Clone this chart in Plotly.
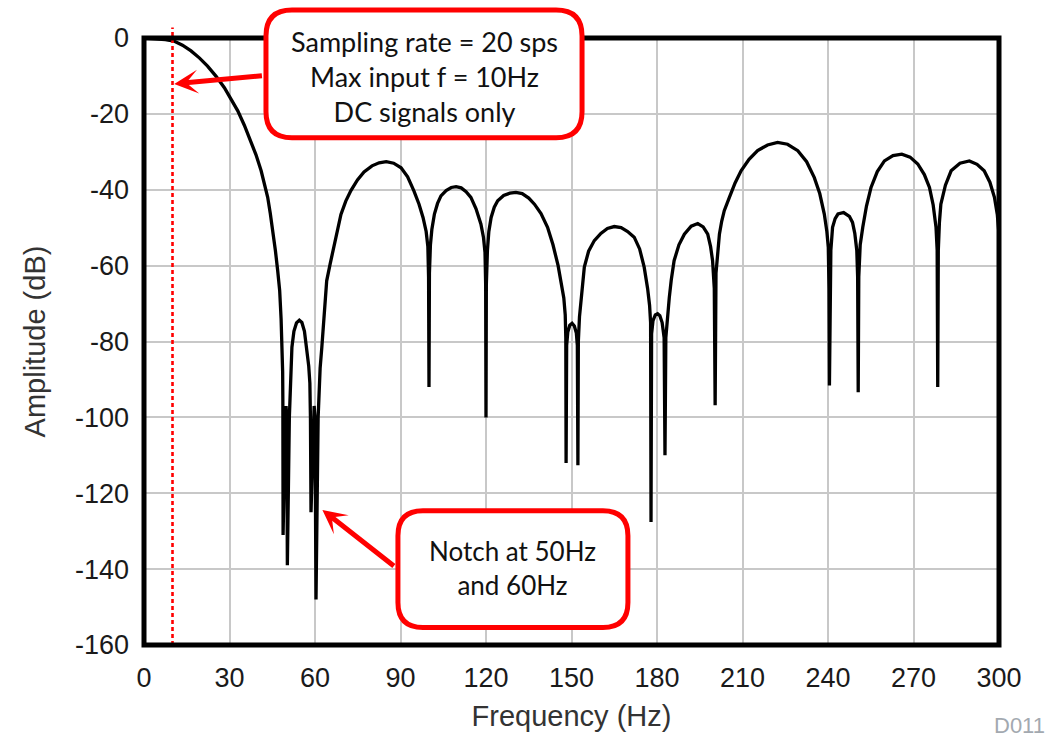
import plotly.graph_objects as go

# Frequency response of the digital filter, traced as (Hz, dB) pairs segment by segment
main_lobe_hz = [0, 2.5, 5, 7.5, 10.5, 13.5, 16.5, 19.5, 22.3, 25.3, 28.2, 30.5, 32.9, 35.2,
                37.5, 39.3, 41.1, 42.3, 43.4, 44.3, 45.2, 46.1, 46.9, 47.6, 48.1, 48.45, 48.65]
main_lobe_db = [0, -0.1, -0.2, -0.4, -0.8, -1.9, -3.4, -5.3, -7.4, -10.1, -13.1, -16.0, -19.2, -23.0,
                -27.1, -30.8, -35.0, -38.3, -42.0, -46.2, -50.8, -56.0, -61.3, -66.5, -74.0, -81.5, -88.0]

notch_50_60_hz = [48.72, 48.8, 49.6, 49.85, 50.1, 50.3, 51.0, 51.2,
                  51.5, 51.9, 52.6, 53.5, 54.5, 55.4, 56.3, 57.1, 57.8, 58.2,
                  58.4, 58.6, 59.4, 59.7, 60.0, 60.35, 61.1, 61.3]
notch_50_60_db = [-95, -131, -100, -97, -100, -139, -100, -94,
                  -87.0, -81.5, -77.3, -75.1, -74.4, -75.0, -77.3, -81.5, -86.5, -91.0,
                  -100, -125, -100, -97, -100, -148, -100, -94]

band_60_120_hz = [61.8, 62.4, 63.2, 64.1, 65.3, 67.3, 69.1, 70.8, 72.6, 74.9, 77.2, 80.0, 82.5, 85.0,
                  87.6, 90.2, 92.5, 94.7, 96.5, 97.9, 99.0, 99.6, 99.85, 100.0, 100.15, 100.5,
                  101.0, 101.9, 103.0, 104.2, 106.0, 107.8, 109.5, 111.3, 113.0, 114.7, 116.5, 118.2,
                  119.1, 119.65, 119.88, 120.0, 120.12, 120.5]
band_60_120_db = [-87.0, -81.5, -72.5, -64.0, -59.6, -52.5, -46.5, -43.0, -40.2, -37.4, -35.3, -33.7, -32.9, -32.6,
                  -33.0, -34.2, -36.6, -40.3, -43.8, -47.3, -51.0, -55.0, -63, -92, -62, -54.5,
                  -50.5, -46.4, -43.6, -41.6, -40.2, -39.4, -39.2, -39.5, -40.5, -42.0, -45.0, -49.0,
                  -52.5, -56.5, -65, -100, -65, -56.0]

band_120_200_hz = [121.0, 121.8, 122.9, 124.1, 126.2, 128.4, 130.5, 132.7, 135.0, 137.0, 139.3, 141.6,
                   143.5, 145.3, 146.5, 147.3, 147.8,
                   148.0, 148.1, 148.3, 148.7, 149.4, 150.2, 151.0, 151.7, 152.05, 152.25, 152.4, 152.8,
                   153.5, 154.5, 156.0, 158.0, 160.3, 162.6, 165.0, 167.4, 169.7, 172.0, 173.9, 175.5,
                   176.7, 177.4, 177.75,
                   177.9, 178.1, 178.6, 179.4, 180.2, 181.0, 181.8, 182.5, 182.8, 183.1, 183.7,
                   184.3, 185.0, 186.0, 187.7, 189.6, 192.0, 194.3, 196.2, 197.8, 198.8, 199.5, 200.1,
                   200.4, 200.7]
band_120_200_db = [-51.0, -47.3, -44.6, -42.9, -41.5, -40.9, -40.7, -41.0, -42.2, -43.8, -46.3, -49.9,
                   -54.5, -60.0, -64.5, -68.5, -73.0,
                   -79, -112, -81, -77.5, -75.7, -75.2, -75.9, -77.8, -81, -112.6, -80, -73.5,
                   -67.5, -60.4, -56.2, -53.4, -51.5, -50.2, -49.7, -50.0, -51.0, -52.5, -55.6, -60.4,
                   -66.0, -70.5, -75,
                   -127.6, -78, -74.5, -73.0, -72.7, -73.2, -75.0, -79, -110, -79, -72.6,
                   -68.5, -63.8, -58.7, -54.5, -51.7, -49.6, -48.9, -49.8, -51.7, -55.0, -58.7, -66,
                   -96.8, -62]

band_200_300_hz = [201.2, 201.9, 202.7, 203.6, 205.4, 207.4, 209.5, 212.3, 215.3, 218.8, 222.3, 225.8,
                   229.4, 232.5, 235.2, 237.1, 238.7, 239.6, 240.1, 240.35, 240.5, 240.7, 241.0,
                   241.6, 242.5, 243.5, 245.5, 247.5, 248.6, 249.4, 250.1, 250.4, 250.6, 250.8, 251.3,
                   252.2, 253.5, 255.1, 257.3, 259.8, 262.8, 265.9, 268.8, 271.5, 273.8, 275.6, 276.9,
                   277.9, 278.3, 278.5, 278.7, 279.1,
                   279.6, 281.2, 283.2, 286.3, 289.6, 292.3, 294.8, 296.8, 298.4, 299.4, 300.0]
band_200_300_db = [-56.5, -51.7, -48.3, -45.5, -42.0, -38.2, -35.0, -32.0, -29.7, -28.2, -27.5, -28.0,
                   -29.7, -32.6, -36.8, -41.0, -46.4, -51.0, -55.2, -66, -91.6, -64, -56.0,
                   -49.9, -47.6, -46.4, -46.0, -47.0, -48.6, -51.5, -56.0, -63, -93.4, -63, -54.5,
                   -49.9, -44.3, -39.4, -35.2, -32.4, -31.0, -30.6, -31.4, -33.2, -36.0, -39.4, -44.0,
                   -49.9, -56, -92.0, -56, -48.5,
                   -43.8, -38.8, -35.0, -33.0, -32.4, -33.3, -35.0, -38.0, -42.0, -46.5, -51.7]

freq_hz = main_lobe_hz + notch_50_60_hz + band_60_120_hz + band_120_200_hz + band_200_300_hz
amp_db = main_lobe_db + notch_50_60_db + band_60_120_db + band_120_200_db + band_200_300_db

x_ticks = [0, 30, 60, 90, 120, 150, 180, 210, 240, 270, 300]
x_tick_labels = ["0", "30", "60", "90", "120", "150", "180", "210", "240", "270", "300"]
y_ticks = [0, -20, -40, -60, -80, -100, -120, -140, -160]
y_tick_labels = ["0", "-20", "-40", "-60", "-80", "-100", "-120", "-140", "-160"]
x_range = [0, 300]
y_range = [-160, 0]

max_input_hz = 10
rate_note = ["Sampling rate = 20 sps", "Max input f = 10Hz", "DC signals only"]
notch_note = ["Notch at 50Hz", "and 60Hz"]

# Page layout in pixels
W, H = 1049, 742
M_L, M_R, M_T, M_B = 144, 50, 38, 97
PW, PH = W - M_L - M_R, H - M_T - M_B
RED = "#ff0000"


def px_x(hz):
    return (hz - x_range[0]) / (x_range[1] - x_range[0])


def px_y(db):
    return (db - y_range[0]) / (y_range[1] - y_range[0])


def rounded_box(x0, x1, y0, y1, r_px):
    """Rounded rectangle path in paper units; x in Hz, y in dB, corner radius in pixels."""
    a, b = px_x(x0), px_x(x1)
    lo, hi = px_y(y0), px_y(y1)
    rx, ry = r_px / PW, r_px / PH
    return (f"M{a + rx},{hi} L{b - rx},{hi} Q{b},{hi} {b},{hi - ry} "
            f"L{b},{lo + ry} Q{b},{lo} {b - rx},{lo} L{a + rx},{lo} "
            f"Q{a},{lo} {a},{lo + ry} L{a},{hi - ry} Q{a},{hi} {a + rx},{hi} Z")


fig = go.Figure()
fig.add_trace(go.Scatter(x=freq_hz, y=amp_db, mode="lines",
                         line=dict(color="black", width=3.3), hoverinfo="skip"))

box1 = (42.8, 153.7, -26.3, 7.4)
box2 = (89.1, 169.8, -155.4, -124.6)

shapes = [
    # max input frequency marker, running a little above the frame
    dict(type="line", xref="paper", yref="paper", x0=px_x(max_input_hz), x1=px_x(max_input_hz),
         y0=0, y1=px_y(2.8), line=dict(color=RED, width=2.6, dash="4px,3px"), layer="above"),
    # plot frame
    dict(type="rect", xref="paper", yref="paper", x0=0, x1=1, y0=0, y1=1,
         line=dict(color="black", width=5), layer="above"),
    # callout boxes
    dict(type="path", xref="paper", yref="paper", path=rounded_box(*box1, 26),
         line=dict(color=RED, width=5), fillcolor="white", layer="above"),
    dict(type="path", xref="paper", yref="paper", path=rounded_box(*box2, 25),
         line=dict(color=RED, width=5), fillcolor="white", layer="above"),
]

annotations = [
    dict(xref="paper", yref="paper", x=px_x((box1[0] + box1[1]) / 2), y=px_y((box1[2] + box1[3]) / 2 - 0.6),
         xanchor="center", yanchor="middle",
         text="<br>".join(rate_note), showarrow=False, align="center",
         font=dict(family="Lato", size=27, color="#111111")),
    dict(xref="paper", yref="paper", x=px_x((box2[0] + box2[1]) / 2), y=px_y((box2[2] + box2[3]) / 2 + 0.3),
         xanchor="center", yanchor="middle",
         text="<br>".join(notch_note), showarrow=False, align="center",
         font=dict(family="Lato", size=26, color="#111111")),
    # arrows from the callouts
    dict(x=10.6, y=-12.1, xref="x", yref="y", ax=41.9, ay=-9.9, axref="x", ayref="y",
         text="", showarrow=True, arrowhead=3, arrowsize=0.8, arrowwidth=5, arrowcolor=RED,
         standoff=0, startstandoff=0),
    dict(x=62.6, y=-124.4, xref="x", yref="y", ax=88.2, ay=-139.5, axref="x", ayref="y",
         text="", showarrow=True, arrowhead=3, arrowsize=0.8, arrowwidth=5, arrowcolor=RED,
         standoff=0, startstandoff=0),
    dict(xref="paper", yref="paper", x=(W - M_L - 2) / PW, y=-(M_B - 2) / PH, xanchor="right",
         yanchor="bottom", text="D011", showarrow=False,
         font=dict(family="Liberation Sans", size=22, color="#a3a9b0")),
]

axis_common = dict(showgrid=True, gridcolor="#c8c8c8", gridwidth=1.5, zeroline=False,
                   showline=False, ticks="", fixedrange=True,
                   tickfont=dict(family="Liberation Sans", size=27, color="#1a1a1a"))

fig.update_layout(
    width=W, height=H, margin=dict(l=M_L, r=M_R, t=M_T, b=M_B, autoexpand=False),
    paper_bgcolor="white", plot_bgcolor="white", showlegend=False,
    shapes=shapes, annotations=annotations,
    xaxis=dict(range=x_range, tickvals=x_ticks, ticktext=x_tick_labels, ticklabelstandoff=14,
               title=dict(text="Frequency (Hz)", standoff=13,
                          font=dict(family="Liberation Sans", size=29, color="#333333")),
               **axis_common),
    yaxis=dict(range=y_range, tickvals=y_ticks, ticktext=y_tick_labels, ticklabelstandoff=14,
               title=dict(text="Amplitude (dB)", standoff=20,
                          font=dict(family="Liberation Sans", size=29, color="#333333")),
               **axis_common),
)

fig.write_html("out.html")
